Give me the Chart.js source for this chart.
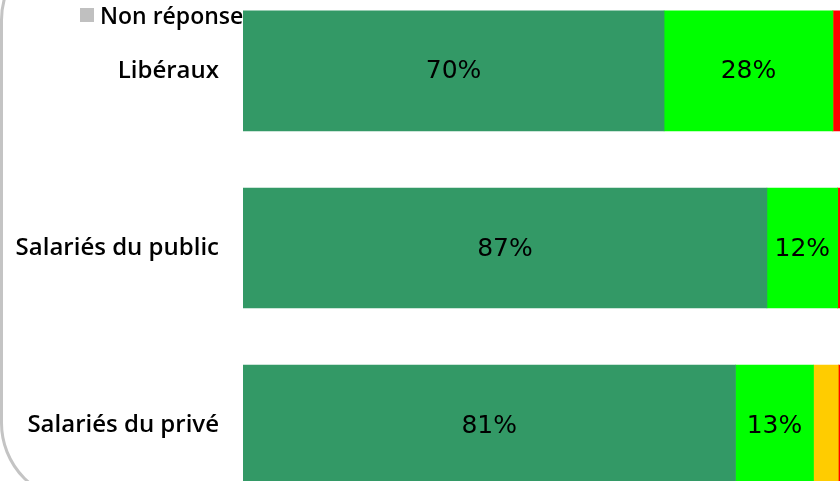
<!DOCTYPE html>
<html>
<head>
<meta charset="utf-8">
<script src="https://cdn.jsdelivr.net/npm/chart.js@4.4.1/dist/chart.umd.min.js"></script>
<style>
  html, body { margin: 0; padding: 0; background: #fff; width: 840px; height: 481px; overflow: hidden; }
  #frame {
    position: absolute; left: 0; top: -60px; width: 1200px; height: 563px;
    border: 3px solid #c4c4c4; border-radius: 80px; box-sizing: border-box;
  }
  #myChart { position: absolute; left: 0; top: -56px; }
  #legend {
    position: absolute; left: 80px; top: 0px; font-family: "Open Sans", sans-serif;
    font-size: 23px; font-weight: 600; color: #000; white-space: nowrap; line-height: 30px;
  }
  #legend span.box {
    display: inline-block; width: 14px; height: 14px; background: #c0c0c0;
    margin-right: 6px; vertical-align: 2px;
  }
</style>
</head>
<body>
<div id="frame"></div>
<canvas id="myChart" width="848" height="608"></canvas>
<div id="legend"><span class="box"></span>Non réponse</div>
<script>
// Categories (top to bottom)
const categories = ["Libéraux", "Salariés du public", "Salariés du privé"];

// Series values in % (right end is cut off)
const tresSatisfaits = [69.6, 86.6, 81.4];
const plutotSatisfaits = [27.9, 11.7, 12.9];
const plutotPas = [0, 0, 4.1];
const pasDuTout = [1.6, 1.0, 1.0];
const nonReponse = [0.9, 0.7, 0.6];

const seriesNames = ["Très satisfaits", "Plutôt satisfaits", "Plutôt pas satisfaits", "Pas du tout satisfaits", "Non réponse"];
const seriesColors = ["#339966", "#00ff00", "#ffcc00", "#ff0000", "#c0c0c0"];
const seriesData = [tresSatisfaits, plutotSatisfaits, plutotPas, pasDuTout, nonReponse];

const ctx = document.getElementById("myChart").getContext("2d");

// draws the % inside each bar segment
const barLabels = {
  id: "barLabels",
  afterDatasetsDraw(chart) {
    const c = chart.ctx;
    c.save();
    c.font = "25px 'DejaVu Sans'";
    c.fillStyle = "#000";
    c.textAlign = "center";
    c.textBaseline = "middle";
    chart.data.datasets.forEach((ds, i) => {
      const meta = chart.getDatasetMeta(i);
      meta.data.forEach((bar, j) => {
        const v = ds.data[j];
        if (v < 5) return;
        c.fillText(Math.round(v) + "%", (bar.x + bar.base) / 2, bar.y + 1);
      });
    });
    c.restore();
  },
};

const datasets = seriesData.map((d, i) => ({
  label: seriesNames[i],
  data: d,
  backgroundColor: seriesColors[i],
  borderWidth: 0,
  barThickness: 120,
}));

new Chart(ctx, {
  type: "bar",
  data: { labels: categories, datasets },
  options: {
    indexAxis: "y",
    responsive: false,
    animation: false,
    layout: { padding: 0 },
    plugins: {
      legend: { display: false },
      tooltip: { enabled: false },
    },
    scales: {
      x: { stacked: true, min: 0, max: 100, display: false },
      y: {
        stacked: true,
        grid: { display: false, drawTicks: false },
        border: { display: false },
        ticks: {
          padding: 24,
          color: "#000",
          font: { family: "Open Sans", size: 24, weight: "600" },
        },
        afterFit: (scale) => { scale.width = 243; },
      },
    },
  },
  plugins: [barLabels],
});
</script>
</body>
</html>
